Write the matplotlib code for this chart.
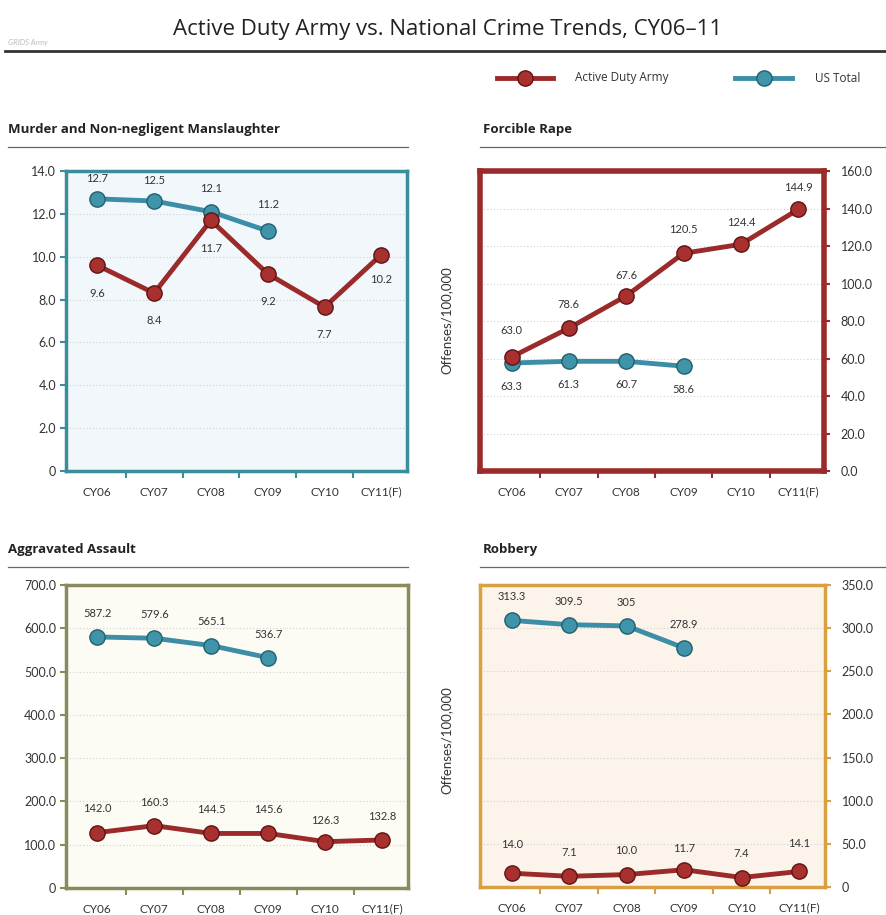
import matplotlib
matplotlib.use("Agg")
import matplotlib.pyplot as plt
from matplotlib.lines import Line2D

plt.rcParams['font.family'] = ['Lato', 'DejaVu Sans']

years = ['CY06', 'CY07', 'CY08', 'CY09', 'CY10', 'CY11(F)']

# murder
army_murder = [9.6, 8.3, 11.7, 9.2, 7.65, 10.1]
army_murder_lbl = ['9.6', '8.4', '11.7', '9.2', '7.7', '10.2']
us_murder = [12.7, 12.6, 12.1, 11.2]
us_murder_lbl = ['12.7', '12.5', '12.1', '11.2']

# rape (points as drawn in the source, labels as printed)
army_rape = [60.8, 76.2, 93.4, 116.1, 120.9, 139.5]
army_rape_lbl = ['63.0', '78.6', '67.6', '120.5', '124.4', '144.9']
us_rape = [57.6, 58.5, 58.5, 55.9]
us_rape_lbl = ['63.3', '61.3', '60.7', '58.6']

# aggravated assault
army_assault = [128, 144, 126, 126, 107, 111]
army_assault_lbl = ['142.0', '160.3', '144.5', '145.6', '126.3', '132.8']
us_assault = [580, 577, 560, 532]
us_assault_lbl = ['587.2', '579.6', '565.1', '536.7']

# robbery
army_robbery = [16, 12.4, 14.4, 20, 11, 18]
army_robbery_lbl = ['14.0', '7.1', '10.0', '11.7', '7.4', '14.1']
us_robbery = [309, 304, 302.6, 277]
us_robbery_lbl = ['313.3', '309.5', '305', '278.9']

RED = '#9b2a2a'
RED_F = '#a8302e'
RED_E = '#5e1414'
BLUE = '#3b8ea6'
BLUE_F = '#3f94aa'
BLUE_E = '#22606f'

W, H = 886, 915
fig = plt.figure(figsize=(W / 100, H / 100), dpi=100)
fig.patch.set_facecolor('white')


def fx(px):
    return px / W


def fy(py):
    return 1 - py / H


fig.text(0.505, fy(30), 'Active Duty Army vs. National Crime Trends, CY06\u201311',
         ha='center', va='center', fontsize=16, color='#222222', family=['Open Sans', 'DejaVu Sans'])
fig.text(fx(8), fy(42), 'GRIDS Army', fontsize=5.5, color='#bbbbbb', style='italic', va='center')
fig.add_artist(Line2D([fx(5), 1.0], [fy(51), fy(51)], color='#333333', lw=2))

# legend
for x0, x1, tx, c, f, e, lab in [(497, 553, 575, RED, RED_F, RED_E, 'Active Duty Army'),
                                  (735, 792, 815, BLUE, BLUE_F, BLUE_E, 'US Total')]:
    fig.add_artist(Line2D([fx(x0), fx(x1)], [fy(78), fy(78)], color=c, lw=3.5))
    fig.add_artist(Line2D([fx((x0 + x1) / 2)], [fy(78)], marker='o', ms=11,
                          mfc=f, mec=e, mew=1))
    fig.text(fx(tx), fy(78), lab, fontsize=8.5, va='center', color='#333333',
             family=['Open Sans', 'DejaVu Sans'])


def panel(box, head_x, head_y, line_x0, line_x1, army, army_lbl, us, us_lbl,
          ymax, ystep, spine_c, spine_w, bg, right, army_off, us_off, zero_lbl='0'):
    l, t, r, b = box
    ax = fig.add_axes([fx(l), fy(b), fx(r - l), (b - t) / H])
    ax.set_facecolor(bg)
    x = list(range(len(years)))
    ax.plot(x[:len(us)], us, color=BLUE, lw=3.5, marker='o', ms=11,
            mfc=BLUE_F, mec=BLUE_E, mew=1, zorder=3)
    ax.plot(x, army, color=RED, lw=3.5, marker='o', ms=11,
            mfc=RED_F, mec=RED_E, mew=1, zorder=4)
    for i, (v, s) in enumerate(zip(army, army_lbl)):
        ax.annotate(s, (i, v), xytext=(0, army_off[i]), textcoords='offset points',
                    ha='center', va='center', fontsize=8, color='#333333', zorder=5)
    for i, (v, s) in enumerate(zip(us, us_lbl)):
        ax.annotate(s, (i, v), xytext=(0, us_off[i]), textcoords='offset points',
                    ha='center', va='center', fontsize=8, color='#333333', zorder=5)
    ax.set_xlim(-0.55, 5.45)
    ax.set_ylim(0, ymax)
    ticks = [ystep * k for k in range(int(round(ymax / ystep)) + 1)]
    ax.set_yticks(ticks)
    ax.set_yticklabels([zero_lbl] + ['%.1f' % v for v in ticks[1:]])
    for v in ticks[1:-1]:
        ax.axhline(v, color='#d0d0d0', lw=0.8, ls=(0, (1, 2)), zorder=1)
    ax.set_xticks([i + 0.5 for i in range(5)])
    ax.set_xticklabels([])
    ax.tick_params(axis='x', length=5, width=1.5, color=spine_c, direction='out')
    for i, s in enumerate(years):
        ax.text(i, -0.07, s, transform=ax.get_xaxis_transform(), ha='center',
                va='center', fontsize=8.5, color='#333333')
    if right:
        ax.yaxis.tick_right()
    ax.tick_params(axis='y', length=4, width=1.5, color=spine_c, labelsize=9,
                   labelcolor='#333333', pad=8 if right else 3)
    for sp in ax.spines.values():
        sp.set_color(spine_c)
        sp.set_linewidth(spine_w)
    fig.text(fx(head_x), fy(head_y), head, fontsize=9.5, fontweight='bold',
             color='#222222', va='center', family=['Open Sans', 'DejaVu Sans'])
    fig.add_artist(Line2D([fx(line_x0), fx(line_x1)], [fy(head_y + 17), fy(head_y + 17)],
                          color='#666666', lw=0.9))
    return ax


head = 'Murder and Non-negligent Manslaughter'
panel((66, 171, 407, 471), 8, 130, 8, 408, army_murder, army_murder_lbl,
      us_murder, us_murder_lbl, 14, 2, '#3a8e9c', 2.5, '#f1f7fb', False,
      [-20, -20, -20, -20, -20, -18], [15, 15, 17, 19])

head = 'Forcible Rape'
panel((480, 171, 824, 471), 483, 130, 480, 886, army_rape, army_rape_lbl,
      us_rape, us_rape_lbl, 160, 20, '#9b2a2a', 4, '#ffffff', True,
      [19, 17, 15, 17, 16, 16], [-17, -17, -17, -17], zero_lbl='0.0')

head = 'Aggravated Assault'
panel((66, 585, 408, 888), 8, 550, 8, 408, army_assault, army_assault_lbl,
      us_assault, us_assault_lbl, 700, 100, '#8c8a5c', 2.5, '#fcfcf4', False,
      [17, 17, 17, 17, 15, 17], [17, 17, 17, 17])

head = 'Robbery'
panel((480, 585, 825, 887), 483, 550, 480, 886, army_robbery, army_robbery_lbl,
      us_robbery, us_robbery_lbl, 350, 50, '#d8a040', 2.5, '#fcf3ea', True,
      [21, 17, 17, 15, 17, 20], [17, 17, 17, 17])

fig.text(fx(447), fy(320), 'Offenses/100,000', rotation=90, ha='center', va='center',
         fontsize=9.5, color='#333333')
fig.text(fx(447), fy(740), 'Offenses/100,000', rotation=90, ha='center', va='center',
         fontsize=9.5, color='#333333')

fig.savefig('out.png', dpi=100, facecolor='white')
